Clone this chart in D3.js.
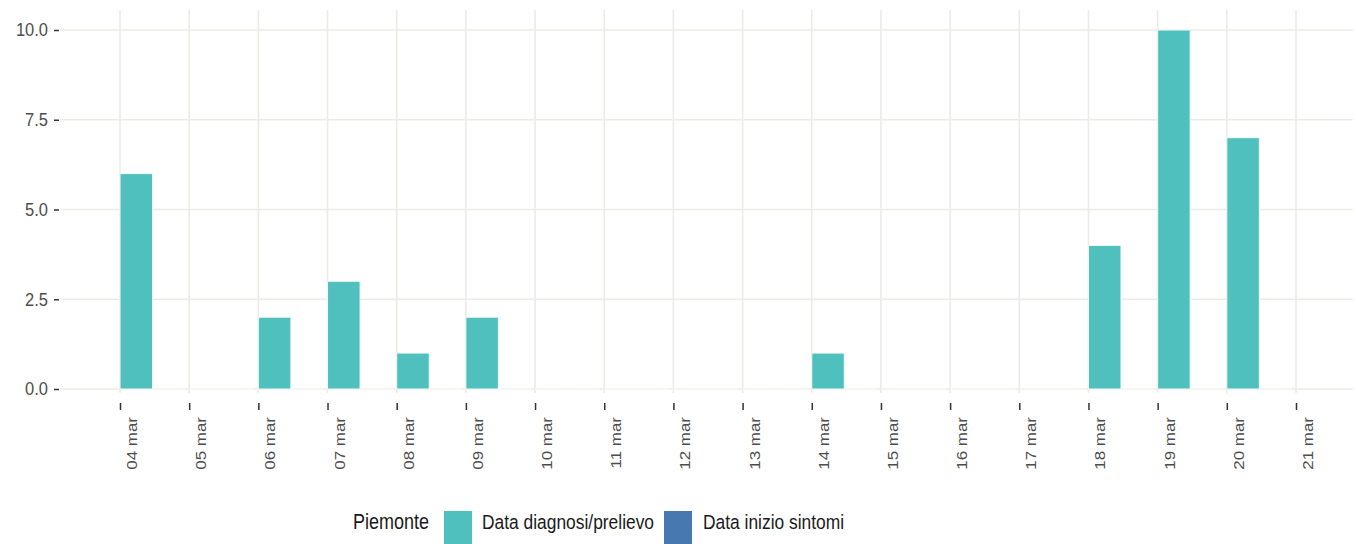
<!DOCTYPE html>
<html>
<head>
<meta charset="utf-8">
<script src="https://cdn.jsdelivr.net/npm/d3@7"></script>
<style>
  body { margin: 0; background: #fff; }
  svg { display: block; font-family: "Liberation Sans", Arial, sans-serif; }
</style>
</head>
<body>
<svg id="chart" width="1356" height="544"></svg>
<script>
// ---- data ----
const dates = ["2020-03-04","2020-03-05","2020-03-06","2020-03-07","2020-03-08","2020-03-09","2020-03-10",
  "2020-03-11","2020-03-12","2020-03-13","2020-03-14","2020-03-15","2020-03-16","2020-03-17",
  "2020-03-18","2020-03-19","2020-03-20"];
const diagnosiValues = [6, 0, 2, 3, 1, 2, 0, 0, 0, 0, 1, 0, 0, 0, 4, 10, 7];
const sintomiValues  = [0, 0, 0, 0, 0, 0, 0, 0, 0, 0, 0, 0, 0, 0, 0, 0, 0];
const xTickDates = ["2020-03-04","2020-03-05","2020-03-06","2020-03-07","2020-03-08","2020-03-09",
  "2020-03-10","2020-03-11","2020-03-12","2020-03-13","2020-03-14","2020-03-15","2020-03-16",
  "2020-03-17","2020-03-18","2020-03-19","2020-03-20","2020-03-21"];
const yTicks = [0, 2.5, 5, 7.5, 10];
const seriesNames = ["Data diagnosi/prelievo", "Data inizio sintomi"];
const legendTitle = "Piemonte";
const monthAbbr = ["gen","feb","mar","apr","mag","giu","lug","ago","set","ott","nov","dic"];

// ---- layout ----
const svg = d3.select("#chart");
const panel = { left: 60, right: 1353, top: 10, bottom: 393 };
const parse = d3.utcParse("%Y-%m-%d");
const colors = ["#50c0bf", "#4878b0"];

const x = d3.scaleUtc()
  .domain([parse("2020-03-04"), parse("2020-03-21")])
  .range([120, 1296]);
const y = d3.scaleLinear().domain([0, 10]).range([389, 30]);
const dayW = x(parse("2020-03-05")) - x(parse("2020-03-04"));
const barW = dayW * 0.47;

// grid
const grid = svg.append("g");
grid.selectAll("line.h").data(yTicks).join("line")
  .attr("x1", panel.left).attr("x2", panel.right)
  .attr("y1", d => y(d)).attr("y2", d => y(d))
  .attr("stroke", "#ecebe6").attr("stroke-width", 1.6);
grid.selectAll("line.v").data(xTickDates).join("line")
  .attr("x1", d => x(parse(d))).attr("x2", d => x(parse(d)))
  .attr("y1", panel.top).attr("y2", panel.bottom)
  .attr("stroke", "#ecebe6").attr("stroke-width", 1.6);

// bars (as paths so zero-height bars still show their outline)
function barPath(x0, x1, v) {
  const p = d3.path();
  const y0 = y(0), y1 = y(v);
  p.moveTo(x0, y0); p.lineTo(x1, y0); p.lineTo(x1, y1); p.lineTo(x0, y1); p.closePath();
  return p.toString();
}
const bars = svg.append("g");
[diagnosiValues, sintomiValues].forEach((vals, si) => {
  bars.append("g").selectAll("path").data(vals).join("path")
    .attr("d", (v, i) => {
      const x0 = x(parse(dates[i])) + si * barW;
      return barPath(x0, x0 + barW, v);
    })
    .attr("fill", colors[si])
    .attr("stroke", "#f3faf2")
    .attr("stroke-width", 1);
});

// y axis
const yAxis = svg.append("g")
  .attr("transform", `translate(${panel.left - 1},0)`)
  .call(d3.axisLeft(y).tickValues(yTicks).tickFormat(d3.format(".1f")).tickSize(5).tickPadding(6));
yAxis.select(".domain").remove();
yAxis.selectAll(".tick line").attr("stroke", "#333").attr("stroke-width", 1.5);
yAxis.selectAll(".tick text").attr("fill", "#4d4d4d").attr("font-size", 16.5)
  .attr("font-family", "Liberation Sans, Arial, sans-serif")
  .attr("transform", "scale(1,1.1)");

// x axis
const xAxis = svg.append("g")
  .attr("transform", `translate(0,${panel.bottom + 10})`)
  .call(d3.axisBottom(x).tickValues(xTickDates.map(parse))
    .tickFormat(d => d3.utcFormat("%d")(d) + " " + monthAbbr[d.getUTCMonth()])
    .tickSize(7).tickPadding(0));
xAxis.select(".domain").remove();
xAxis.selectAll(".tick line").attr("stroke", "#333").attr("stroke-width", 1.5);
xAxis.selectAll(".tick text")
  .attr("fill", "#4d4d4d").attr("font-size", 15)
  .attr("font-family", "Liberation Sans, Arial, sans-serif")
  .attr("text-anchor", "end")
  .attr("dy", null)
  .attr("y", 0)
  .attr("transform", "translate(16.5,14) rotate(-90) scale(1.13,1)");

// legend
const leg = svg.append("g");
leg.append("text").attr("transform", "translate(353,529) scale(1,1.2)").text(legendTitle)
  .attr("font-size", 18).attr("fill", "#1a1a1a");
const legX = [[444, 482], [664, 703]];
seriesNames.forEach((name, i) => {
  leg.append("rect").attr("x", legX[i][0]).attr("y", 511).attr("width", 28).attr("height", 40)
    .attr("fill", colors[i]);
  leg.append("text").attr("transform", `translate(${legX[i][1]},529) scale(1,1.2)`).text(name)
    .attr("font-size", 17.4).attr("fill", "#1a1a1a");
});
</script>
</body>
</html>
